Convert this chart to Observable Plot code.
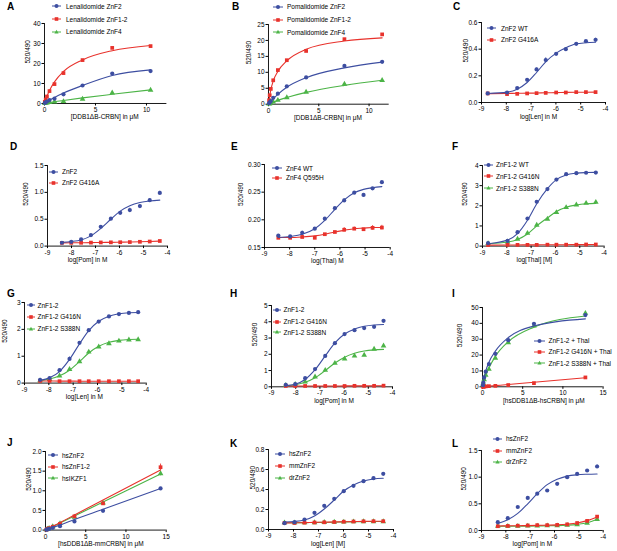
<!DOCTYPE html>
<html><head><meta charset="utf-8">
<script src="https://cdn.jsdelivr.net/npm/d3@7"></script>
<script src="https://cdn.jsdelivr.net/npm/@observablehq/plot@0.6"></script>
<style>
body{margin:0;background:#fff;}
#root{position:relative;width:617px;height:551px;overflow:hidden;background:#fff;font-family:"Liberation Sans",Arial,Helvetica,sans-serif;color:#000;}
.letter{position:absolute;font-weight:bold;font-size:10px;line-height:10px;}
.leg{position:absolute;font-size:6.5px;white-space:nowrap;line-height:7px;}
</style></head><body><div id="root"></div><script>
// ---------------- DATA ----------------
// A
const A_conc = [0.03, 0.12, 0.24, 0.49, 0.98, 1.86, 3.73, 6.64, 10.4];
const A_ZnF2 = [0.3, 0.6, 1.0, 1.7, 2.4, 4.6, 9.0, 15.0, 16.2];
const A_ZnF2_fit = [0.1, 0.4, 0.8, 1.6, 3.0, 5.2, 9.0, 14.0, 16.8];
const A_ZnF12 = [0.8, 2.0, 3.5, 6.2, 9.7, 15.2, 21.7, 27.8, 28.7];
const A_ZnF12_fit = [0.5, 1.9, 3.6, 6.5, 10.8, 16.0, 21.8, 26.4, 29.0];
const A_ZnF4 = [0.1, 0.2, 0.3, 0.5, 0.8, 1.0, 2.2, 5.3, 6.7];
const A_ZnF4_fit = [0.05, 0.15, 0.3, 0.45, 0.85, 1.5, 2.8, 4.6, 6.8];
// B
const B_conc = [0.06, 0.12, 0.23, 0.47, 0.93, 1.82, 3.74, 7.55, 11.3];
const B_ZnF2 = [0.3, 0.6, 1.0, 2.0, 3.3, 5.6, 8.4, 12.0, 13.3];
const B_ZnF2_fit = [0.2, 0.4, 0.9, 1.7, 3.1, 5.3, 8.3, 11.4, 13.2];
const B_ZnF12 = [1.25, 2.8, 4.8, 7.5, 10.7, 13.8, 16.7, 20.4, 21.9];
const B_ZnF12_fit = [1.3, 2.5, 4.5, 7.3, 10.3, 13.6, 17.2, 19.8, 20.8];
const B_ZnF4 = [0.1, 0.2, 0.4, 0.7, 1.25, 2.1, 3.8, 6.3, 7.5];
const B_ZnF4_fit = [0.08, 0.17, 0.33, 0.65, 1.2, 2.1, 3.7, 5.9, 7.5];
// C
const C_logLen = [-8.75, -7.97, -7.56, -7.16, -6.78, -6.41, -5.99, -5.60, -5.18, -4.79, -4.40];
const C_WT = [0.068, 0.075, 0.108, 0.17, 0.248, 0.318, 0.365, 0.40, 0.44, 0.46, 0.47];
const C_WT_err = [0, 0, 0, 0, 0.01, 0.017, 0.01, 0, 0, 0, 0.012];
const C_WT_fit = [0.068, 0.078, 0.10, 0.15, 0.225, 0.305, 0.37, 0.41, 0.44, 0.448, 0.452];
const C_G416A = [0.068, 0.063, 0.065, 0.068, 0.07, 0.072, 0.075, 0.075, 0.078, 0.078, 0.078];
const C_G416A_fit = [0.066, 0.068, 0.069, 0.070, 0.071, 0.073, 0.074, 0.076, 0.077, 0.077, 0.078];
// D
const D_logPom = [-8.40, -8.01, -7.60, -7.19, -6.78, -6.36, -5.97, -5.57, -5.15, -4.74, -4.32];
const D_ZnF2 = [0.062, 0.08, 0.124, 0.205, 0.36, 0.51, 0.62, 0.67, 0.745, 0.855, 0.99];
const D_ZnF2_err = [0, 0, 0, 0.01, 0.015, 0.01, 0.01, 0.035, 0.025, 0.025, 0.03];
const D_ZnF2_fit = [0.07, 0.085, 0.115, 0.19, 0.33, 0.50, 0.65, 0.75, 0.81, 0.84, 0.855];
const D_G416A = [0.06, 0.06, 0.062, 0.065, 0.068, 0.07, 0.072, 0.075, 0.08, 0.085, 0.095];
const D_G416A_fit = [0.06, 0.061, 0.063, 0.065, 0.068, 0.07, 0.073, 0.076, 0.08, 0.086, 0.093];
// E
const E_logThal = [-8.45, -7.98, -7.5, -7.0, -6.6, -6.2, -5.83, -5.43, -5.06, -4.7, -4.33];
const E_WT = [0.1715, 0.170, 0.1765, 0.184, 0.202, 0.221, 0.235, 0.249, 0.245, 0.257, 0.268];
const E_WT_err = [0.002, 0, 0.003, 0, 0, 0, 0.003, 0, 0, 0, 0];
const E_WT_fit = [0.168, 0.170, 0.174, 0.184, 0.199, 0.219, 0.236, 0.249, 0.255, 0.258, 0.260];
const E_Q595H = [0.1675, 0.1675, 0.169, 0.1675, 0.174, 0.178, 0.182, 0.184, 0.183, 0.1855, 0.186];
const E_Q595H_err = [0, 0, 0.003, 0.003, 0, 0, 0.004, 0.003, 0, 0.004, 0.004];
const E_Q595H_fit = [0.168, 0.168, 0.169, 0.171, 0.174, 0.178, 0.181, 0.184, 0.185, 0.186, 0.186];
// F
const F_logThal = [-8.77, -7.97, -7.56, -7.15, -6.77, -6.33, -5.96, -5.56, -5.14, -4.74, -4.34];
const F_WT = [0.15, 0.26, 0.69, 1.37, 2.2, 2.83, 3.3, 3.57, 3.62, 3.64, 3.65];
const F_WT_fit = [0.12, 0.3, 0.62, 1.28, 2.1, 2.85, 3.3, 3.53, 3.62, 3.65, 3.66];
const F_G416N = [0.05, 0.06, 0.06, 0.06, 0.06, 0.07, 0.07, 0.07, 0.07, 0.08, 0.08];
const F_G416N_fit = [0.05, 0.055, 0.058, 0.06, 0.062, 0.065, 0.068, 0.07, 0.072, 0.075, 0.078];
const F_S388N = [0.13, 0.21, 0.35, 0.64, 1.04, 1.34, 1.67, 1.92, 2.05, 2.13, 2.18];
const F_S388N_fit = [0.12, 0.2, 0.33, 0.6, 1.0, 1.4, 1.72, 1.93, 2.04, 2.1, 2.12];
// G
const G_logLen = [-8.36, -7.97, -7.56, -7.15, -6.74, -6.36, -5.95, -5.53, -5.12, -4.71, -4.33];
const G_ZnF12 = [0.12, 0.19, 0.48, 0.9, 1.5, 1.97, 2.29, 2.48, 2.57, 2.61, 2.64];
const G_ZnF12_err = [0, 0, 0, 0.07, 0, 0, 0, 0, 0, 0, 0];
const G_ZnF12_fit = [0.1, 0.2, 0.43, 0.88, 1.46, 1.95, 2.3, 2.49, 2.58, 2.62, 2.63];
const G_G416N = [0.08, 0.08, 0.07, 0.07, 0.07, 0.07, 0.07, 0.07, 0.07, 0.07, 0.07];
const G_G416N_fit = [0.078, 0.076, 0.074, 0.072, 0.071, 0.07, 0.07, 0.07, 0.07, 0.07, 0.07];
const G_S388N = [0.09, 0.14, 0.27, 0.51, 0.8, 1.16, 1.35, 1.47, 1.57, 1.61, 1.62];
const G_S388N_fit = [0.09, 0.15, 0.27, 0.48, 0.8, 1.12, 1.37, 1.52, 1.59, 1.62, 1.63];
// H
const H_logPom = [-8.41, -8.02, -7.61, -7.2, -6.78, -6.38, -5.98, -5.57, -5.17, -4.76, -4.37];
const H_ZnF12 = [0.12, 0.16, 0.53, 1.09, 1.9, 2.68, 3.24, 3.48, 3.61, 3.69, 4.06];
const H_ZnF12_fit = [0.07, 0.16, 0.45, 1.05, 1.9, 2.7, 3.25, 3.55, 3.72, 3.8, 3.83];
const H_G416N = [0.05, 0.05, 0.05, 0.05, 0.05, 0.05, 0.05, 0.06, 0.06, 0.06, 0.07];
const H_G416N_fit = [0.05, 0.05, 0.05, 0.05, 0.05, 0.052, 0.054, 0.056, 0.058, 0.06, 0.062];
const H_S388N = [0.1, 0.16, 0.31, 0.61, 1.02, 1.45, 1.72, 1.9, 1.95, 2.32, 2.52];
const H_S388N_fit = [0.06, 0.13, 0.28, 0.56, 1.0, 1.46, 1.82, 2.06, 2.2, 2.27, 2.3];
// I
const I_conc = [0.05, 0.1, 0.2, 0.4, 0.8, 1.6, 3.2, 6.4, 12.8];
const I_ZnF12 = [1.0, 2.7, 5.9, 9.5, 14.3, 20.8, 29.4, 39.7, 45.2];
const I_ZnF12_fit = [1.4, 2.9, 5.5, 9.9, 15.5, 22.5, 31.0, 38.3, 42.8];
const I_G416N = [0.05, 0.1, 0.15, 0.25, 0.4, 0.6, 1.1, 2.3, 5.9];
const I_G416N_fit = [0.02, 0.05, 0.1, 0.2, 0.4, 0.75, 1.45, 2.9, 5.7];
const I_S388N = [0.9, 2.3, 4.5, 7.4, 11.1, 18.1, 27.9, 38.4, 46.4];
const I_S388N_fit = [0.9, 1.8, 3.6, 6.8, 11.8, 19.2, 28.4, 37.6, 44.6];
// J
const J_conc = [0.11, 0.22, 0.45, 0.9, 1.8, 3.6, 7.15, 14.3];
const J_hsZnF2 = [0.01, 0.015, 0.03, 0.055, 0.1, 0.22, 0.49, 1.06];
const J_hsZnF2_fit = [0.008, 0.016, 0.033, 0.067, 0.13, 0.27, 0.53, 1.06];
const J_hsZnF12 = [0.01, 0.03, 0.05, 0.085, 0.16, 0.35, 0.68, 1.6];
const J_hsZnF12_err = [0, 0, 0, 0, 0, 0.02, 0.02, 0.08];
const J_hsZnF12_fit = [0.012, 0.024, 0.048, 0.096, 0.19, 0.385, 0.765, 1.53];
const J_hsIKZF1 = [0.01, 0.025, 0.045, 0.09, 0.17, 0.33, 0.69, 1.44];
const J_hsIKZF1_err = [0, 0, 0, 0, 0, 0, 0.02, 0.06];
const J_hsIKZF1_fit = [0.011, 0.022, 0.045, 0.09, 0.18, 0.36, 0.715, 1.43];
// K
const K_logLen = [-8.36, -7.96, -7.56, -7.16, -6.77, -6.37, -5.99, -5.6, -5.2, -4.8, -4.41];
const K_hsZnF2 = [0.063, 0.073, 0.1, 0.167, 0.237, 0.307, 0.383, 0.437, 0.483, 0.513, 0.557];
const K_hsZnF2_fit = [0.075, 0.08, 0.095, 0.135, 0.205, 0.295, 0.385, 0.445, 0.485, 0.505, 0.512];
const K_mmZnF2 = [0.065, 0.065, 0.068, 0.07, 0.072, 0.075, 0.078, 0.08, 0.082, 0.083, 0.083];
const K_mmZnF2_fit = [0.066, 0.067, 0.069, 0.071, 0.073, 0.075, 0.077, 0.079, 0.081, 0.082, 0.082];
const K_drZnF2 = [0.068, 0.068, 0.07, 0.07, 0.072, 0.074, 0.076, 0.078, 0.079, 0.08, 0.08];
const K_drZnF2_fit = [0.068, 0.068, 0.069, 0.07, 0.072, 0.074, 0.076, 0.078, 0.079, 0.08, 0.08];
// L
const L_logPom = [-8.33, -7.92, -7.51, -7.1, -6.71, -6.3, -5.89, -5.48, -5.07, -4.66, -4.25];
const L_hsZnF2 = [0.156, 0.23, 0.44, 0.61, 0.69, 0.75, 0.875, 1.0, 1.06, 1.125, 1.2];
const L_hsZnF2_err = [0, 0, 0, 0, 0, 0, 0, 0, 0, 0, 0.03];
const L_hsZnF2_fit = [0.13, 0.2, 0.32, 0.5, 0.69, 0.86, 0.96, 1.02, 1.045, 1.055, 1.06];
const L_mmZnF2 = [0.08, 0.085, 0.09, 0.095, 0.1, 0.1, 0.105, 0.115, 0.14, 0.18, 0.26];
const L_mmZnF2_fit = [0.085, 0.087, 0.09, 0.092, 0.095, 0.1, 0.106, 0.118, 0.14, 0.185, 0.255];
const L_drZnF2 = [0.08, 0.08, 0.08, 0.085, 0.085, 0.09, 0.09, 0.1, 0.11, 0.14, 0.21];
const L_drZnF2_fit = [0.078, 0.079, 0.08, 0.082, 0.085, 0.088, 0.092, 0.1, 0.115, 0.145, 0.21];

// tick values
const ticksLog = [-9, -8, -7, -6, -5, -4];
const ticks0_10 = [0, 5, 10];
const ticks0_15 = [0, 5, 10, 15];

// ---------------- DRAWING ----------------
const BLUE = "#3d4ea1", RED = "#e8322c", GREEN = "#4cb447";
const root = document.getElementById("root");
const fmtInt = d => String(d);
const fmt1 = d3.format(".1f");
const fmt2 = d3.format(".2f");

function S(name, color, symbol, y, fit, err) { return {name, color, symbol, y, fit, err}; }

function markerSVG(sym, cx, cy, color) {
  if (sym === "circle") return `<circle cx="${cx}" cy="${cy}" r="2" fill="${color}"/>`;
  if (sym === "square") return `<rect x="${cx-1.8}" y="${cy-1.8}" width="3.6" height="3.6" fill="${color}"/>`;
  return `<path d="M${cx},${cy-2.2}L${cx+2.1},${cy+1.5}L${cx-2.1},${cy+1.5}Z" fill="${color}"/>`;
}

function panel(p) {
  const ml = 40, mr = 10, mt = 10, mb = 28;
  const fw = p.frame.r - p.frame.l, fh = p.frame.b - p.frame.t;
  const marks = [
    Plot.ruleY([p.yDomain[0]], {stroke: "#000", strokeWidth: 0.9}),
    Plot.ruleX([p.xDomain[0]], {stroke: "#000", strokeWidth: 0.9}),
    Plot.axisX({ticks: p.xTicks, tickSize: 2.5, tickPadding: 1.5, tickFormat: p.xFormat, label: null}),
    Plot.axisY({ticks: p.yTicks, tickSize: 2.5, tickPadding: 1.5, tickFormat: p.yFormat, label: null}),
    Plot.text([p.yLabel], {text: d => d, frameAnchor: "left", dx: -p.yOff, rotate: -90, fontSize: 6.5}),
    Plot.text([p.xLabel], {text: d => d, frameAnchor: "bottom", dx: p.xDx || 0, dy: 16, fontSize: 6.5})
  ];
  const order = p.series.slice().reverse();
  for (const s of order) {
    const pts = p.x.map((xv, i) => ({x: xv, y: s.y[i], f: s.fit[i], e: s.err ? s.err[i] : 0}));
    marks.push(Plot.line(pts, {x: "x", y: "f", stroke: s.color, strokeWidth: 1.1, curve: "monotone-x"}));
    const ep = pts.filter(d => d.e > 0);
    if (ep.length) marks.push(Plot.ruleX(ep, {x: "x", y1: d => d.y - d.e, y2: d => d.y + d.e, stroke: s.color, strokeWidth: 0.9}));
    marks.push(Plot.dot(pts, {x: "x", y: "y", symbol: s.symbol, fill: s.color, r: 2.1}));
  }
  const svg = Plot.plot({
    width: ml + fw + mr, height: mt + fh + mb,
    marginLeft: ml, marginRight: mr, marginTop: mt, marginBottom: mb,
    x: {domain: p.xDomain}, y: {domain: p.yDomain},
    style: {fontFamily: "Liberation Sans, Arial, sans-serif", fontSize: "6.5px", color: "#000", background: "transparent", overflow: "visible"},
    marks
  });
  svg.style.position = "absolute";
  svg.style.left = (p.frame.l - ml) + "px";
  svg.style.top = (p.frame.t - mt) + "px";
  root.appendChild(svg);

  // panel letter
  const L = document.createElement("div");
  L.className = "letter"; L.textContent = p.id;
  L.style.left = p.letter[0] + "px"; L.style.top = (p.letter[1] - 8.5) + "px";
  root.appendChild(L);

  // legend
  const lg = p.legend;
  p.series.forEach((s, i) => {
    const y = lg.ys[i];
    const w = lg.x1 - lg.x0;
    const g = document.createElement("div");
    g.style.cssText = `position:absolute;left:${lg.x0}px;top:${y - 4}px;width:${w}px;height:8px;`;
    g.innerHTML = `<svg width="${w}" height="8" style="overflow:visible;display:block"><line x1="0" x2="${w}" y1="4" y2="4" stroke="${s.color}" stroke-width="1"/>${markerSVG(s.symbol, w / 2, 4, s.color)}</svg>`;
    root.appendChild(g);
    const t = document.createElement("div");
    t.className = "leg"; t.textContent = s.name;
    t.style.left = lg.tx + "px"; t.style.top = (y - 3.6) + "px";
    root.appendChild(t);
  });
}

const UM = "[DDB1\u0394B-CRBN] in \u03bcM";

panel({id: "A", letter: [7, 10], frame: {l: 44.3, r: 166.7, t: 23.3, b: 103.3},
  xDomain: [0, 12], yDomain: [0, 40], xTicks: ticks0_10, yTicks: [0, 10, 20, 30, 40], xFormat: fmtInt, yFormat: fmtInt,
  xLabel: UM, yLabel: "520/490", yOff: 17, xDx: -1, x: A_conc,
  series: [S("Lenalidomide ZnF2", BLUE, "circle", A_ZnF2, A_ZnF2_fit),
           S("Lenalidomide ZnF1-2", RED, "square", A_ZnF12, A_ZnF12_fit),
           S("Lenalidomide ZnF4", GREEN, "triangle", A_ZnF4, A_ZnF4_fit)],
  legend: {x0: 52, x1: 61, tx: 66, ys: [6.3, 19.3, 31.7]}});

panel({id: "B", letter: [232, 10], frame: {l: 268.3, r: 389, t: 24.3, b: 104},
  xDomain: [0, 12], yDomain: [0, 25], xTicks: ticks0_10, yTicks: [0, 5, 10, 15, 20, 25], xFormat: fmtInt, yFormat: fmtInt,
  xLabel: UM, yLabel: "520/490", yOff: 20, xDx: -1, x: B_conc,
  series: [S("Pomalidomide ZnF2", BLUE, "circle", B_ZnF2, B_ZnF2_fit),
           S("Pomalidomide ZnF1-2", RED, "square", B_ZnF12, B_ZnF12_fit),
           S("Pomalidomide ZnF4", GREEN, "triangle", B_ZnF4, B_ZnF4_fit)],
  legend: {x0: 273, x1: 283, tx: 287, ys: [7, 20, 32.3]}});

panel({id: "C", letter: [453, 10], frame: {l: 481, r: 605, t: 22, b: 102},
  xDomain: [-9, -4], yDomain: [0, 0.6], xTicks: ticksLog, yTicks: [0, 0.2, 0.4, 0.6], xFormat: fmtInt, yFormat: fmt1,
  xLabel: "log[Len] in M", yLabel: "520/490", yOff: 15.5, xDx: -5, x: C_logLen,
  series: [S("ZnF2 WT", BLUE, "circle", C_WT, C_WT_fit, C_WT_err),
           S("ZnF2 G416A", RED, "square", C_G416A, C_G416A_fit)],
  legend: {x0: 487, x1: 496, tx: 501, ys: [28.3, 40]}});

panel({id: "D", letter: [10, 150], frame: {l: 46.7, r: 166.7, t: 164.7, b: 245.3},
  xDomain: [-9, -4], yDomain: [0, 1.5], xTicks: ticksLog, yTicks: [0, 0.5, 1.0, 1.5], xFormat: fmtInt, yFormat: fmt1,
  xLabel: "log[Pom] in M", yLabel: "520/490", yOff: 21.5, xDx: -20, x: D_logPom,
  series: [S("ZnF2", BLUE, "circle", D_ZnF2, D_ZnF2_fit, D_ZnF2_err),
           S("ZnF2 G416A", RED, "square", D_G416A, D_G416A_fit)],
  legend: {x0: 49, x1: 58, tx: 62, ys: [172, 183]}});

panel({id: "E", letter: [231, 150], frame: {l: 264.3, r: 390, t: 164.3, b: 247.3},
  xDomain: [-9, -4], yDomain: [0.15, 0.30], xTicks: ticksLog, yTicks: [0.15, 0.20, 0.25, 0.30], xFormat: fmtInt, yFormat: fmt2,
  xLabel: "log(Thal) M", yLabel: "520/490", yOff: 23.5, xDx: 0, x: E_logThal,
  series: [S("ZnF4 WT", BLUE, "circle", E_WT, E_WT_fit, E_WT_err),
           S("ZnF4 Q595H", RED, "square", E_Q595H, E_Q595H_fit, E_Q595H_err)],
  legend: {x0: 272, x1: 282, tx: 286, ys: [168.3, 177.7]}});

panel({id: "F", letter: [452, 150], frame: {l: 481.7, r: 603.3, t: 164.7, b: 245.3},
  xDomain: [-9, -4], yDomain: [0, 4], xTicks: ticksLog, yTicks: [0, 1, 2, 3, 4], xFormat: fmtInt, yFormat: fmtInt,
  xLabel: "log[Thal] [M]", yLabel: "520/490", yOff: 18, xDx: -9, x: F_logThal,
  series: [S("ZnF1-2 WT", BLUE, "circle", F_WT, F_WT_fit),
           S("ZnF1-2 G416N", RED, "square", F_G416N, F_G416N_fit),
           S("ZnF1-2 S388N", GREEN, "triangle", F_S388N, F_S388N_fit)],
  legend: {x0: 484, x1: 493, tx: 496, ys: [164.7, 176.3, 188.3]}});

panel({id: "G", letter: [7, 297], frame: {l: 24.3, r: 146, t: 301.7, b: 382.3},
  xDomain: [-9, -4], yDomain: [0, 3], xTicks: ticksLog, yTicks: [0, 1, 2, 3], xFormat: fmtInt, yFormat: fmtInt,
  xLabel: "log[Len] in M", yLabel: "520/490", yOff: 19.5, xDx: -1, x: G_logLen,
  series: [S("ZnF1-2", BLUE, "circle", G_ZnF12, G_ZnF12_fit, G_ZnF12_err),
           S("ZnF1-2 G416N", RED, "square", G_G416N, G_G416N_fit),
           S("ZnF1-2 S388N", GREEN, "triangle", G_S388N, G_S388N_fit)],
  legend: {x0: 27, x1: 35, tx: 37.5, ys: [305.3, 317, 328.7]}});

panel({id: "H", letter: [230, 297], frame: {l: 270.7, r: 391.7, t: 304.7, b: 386},
  xDomain: [-9, -4], yDomain: [0, 5], xTicks: ticksLog, yTicks: [0, 1, 2, 3, 4, 5], xFormat: fmtInt, yFormat: fmtInt,
  xLabel: "log[Pom] in M", yLabel: "520/490", yOff: 17, xDx: 2, x: H_logPom,
  series: [S("ZnF1-2", BLUE, "circle", H_ZnF12, H_ZnF12_fit),
           S("ZnF1-2 G416N", RED, "square", H_G416N, H_G416N_fit),
           S("ZnF1-2 S388N", GREEN, "triangle", H_S388N, H_S388N_fit)],
  legend: {x0: 273, x1: 281, tx: 283.5, ys: [310, 321.7, 332.3]}});

panel({id: "I", letter: [452, 297], frame: {l: 481.7, r: 602.3, t: 306.7, b: 386},
  xDomain: [0, 15], yDomain: [0, 50], xTicks: ticks0_15, yTicks: [0, 10, 20, 30, 40, 50], xFormat: fmtInt, yFormat: fmtInt,
  xLabel: "[hsDDB1\u0394B-hsCRBN] in \u03bcM", yLabel: "520/490", yOff: 23, xDx: 1, x: I_conc,
  series: [S("ZnF1-2 + Thal", BLUE, "circle", I_ZnF12, I_ZnF12_fit),
           S("ZnF1-2 G416N + Thal", RED, "square", I_G416N, I_G416N_fit),
           S("ZnF1-2 S388N + Thal", GREEN, "triangle", I_S388N, I_S388N_fit)],
  legend: {x0: 534, x1: 545, tx: 548.5, ys: [340.7, 351.7, 363.3]}});

panel({id: "J", letter: [7, 446], frame: {l: 45, r: 165.7, t: 450.7, b: 529.3},
  xDomain: [0, 15], yDomain: [0, 2], xTicks: ticks0_15, yTicks: [0, 0.5, 1.0, 1.5, 2.0], xFormat: fmtInt, yFormat: fmt1,
  xLabel: "[hsDDB1\u0394B-mmCRBN] in \u03bcM", yLabel: "520/490", yOff: 17, xDx: -5, x: J_conc,
  series: [S("hsZnF2", BLUE, "circle", J_hsZnF2, J_hsZnF2_fit),
           S("hsZnF1-2", RED, "square", J_hsZnF12, J_hsZnF12_fit, J_hsZnF12_err),
           S("hsIKZF1", GREEN, "triangle", J_hsIKZF1, J_hsIKZF1_fit, J_hsIKZF1_err)],
  legend: {x0: 48, x1: 58, tx: 62, ys: [455.3, 466.7, 478.3]}});

panel({id: "K", letter: [230, 447], frame: {l: 268.3, r: 393.3, t: 449, b: 529},
  xDomain: [-9, -4], yDomain: [0, 0.8], xTicks: ticksLog, yTicks: [0, 0.2, 0.4, 0.6, 0.8], xFormat: fmtInt, yFormat: fmt1,
  xLabel: "log[Len] [M]", yLabel: "520/490", yOff: 16, xDx: -3, x: K_logLen,
  series: [S("hsZnF2", BLUE, "circle", K_hsZnF2, K_hsZnF2_fit),
           S("mmZnF2", RED, "square", K_mmZnF2, K_mmZnF2_fit),
           S("drZnF2", GREEN, "triangle", K_drZnF2, K_drZnF2_fit)],
  legend: {x0: 275, x1: 285, tx: 289, ys: [453.7, 466, 477.7]}});

panel({id: "L", letter: [452, 447], frame: {l: 481, r: 602.7, t: 450, b: 530},
  xDomain: [-9, -4], yDomain: [0, 1.5], xTicks: ticksLog, yTicks: [0, 0.5, 1.0, 1.5], xFormat: fmtInt, yFormat: fmt1,
  xLabel: "log[Pom] in M", yLabel: "520/490", yOff: 18, xDx: -10, x: L_logPom,
  series: [S("hsZnF2", BLUE, "circle", L_hsZnF2, L_hsZnF2_fit, L_hsZnF2_err),
           S("mmZnF2", RED, "square", L_mmZnF2, L_mmZnF2_fit),
           S("drZnF2", GREEN, "triangle", L_drZnF2, L_drZnF2_fit)],
  legend: {x0: 493, x1: 502, tx: 506, ys: [439, 451, 461.7]}});
</script></body></html>
